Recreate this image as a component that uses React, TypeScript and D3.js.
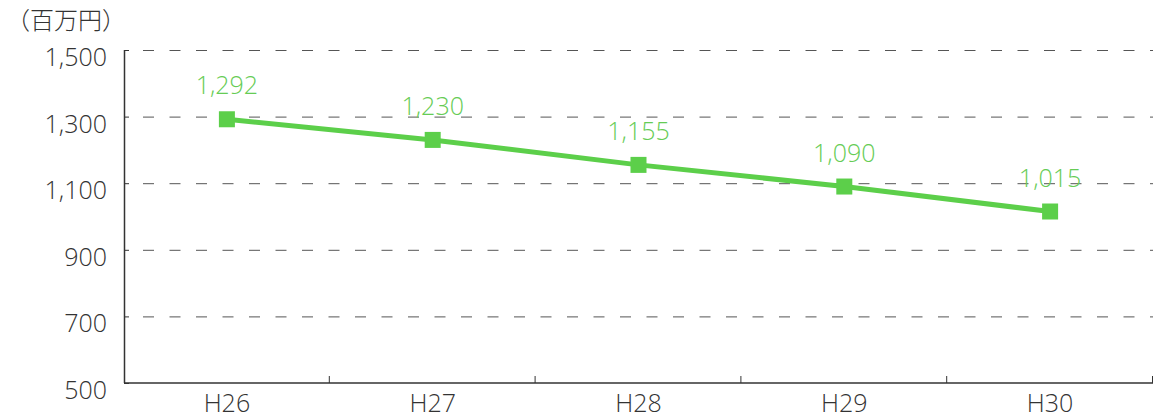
import React from 'react';
import {scaleLinear, scaleBand, line} from 'd3';

const categories = ['H26', 'H27', 'H28', 'H29', 'H30'];
const values = [1292, 1230, 1155, 1090, 1015];
const yTicks = [500, 700, 900, 1100, 1300, 1500];
const unitLabel = '（百万円）';

const W = 1154;
const H = 419;
const left = 124;
const right = 1153;
const top = 50;
const bottom = 383;
const green = '#5ccf4a';
const font = '"Open Sans", "Noto Sans CJK JP", sans-serif';
const cjk = '"Noto Sans CJK JP", sans-serif';

const App = () => {
    const x = scaleBand<string>().domain(categories).range([left, right]);
    const y = scaleLinear().domain([500, 1500]).range([bottom, top]);
    const fmt = (v: number) => v.toLocaleString('en-US');
    const cx = (c: string) => (x(c) as number) + x.bandwidth() / 2;

    const path = line<number>()
        .x((d, i) => cx(categories[i]))
        .y(d => y(d))(values);

    const bounds = categories.map(c => (x(c) as number) + x.bandwidth());

    return (
        <svg width={W} height={H} style={{position: 'absolute', left: 0, top: 0}}>
            <text x={6} y={29} fontSize={24} fill="#333" fontFamily={cjk} fontWeight={300}>{unitLabel}</text>

            {yTicks.filter(t => t > 500).map(t => (
                <line key={'g' + t} x1={left + 19} x2={right} y1={y(t) + 0.5} y2={y(t) + 0.5}
                    stroke="#555" strokeWidth={1} strokeDasharray="11,15.5" />
            ))}
            {yTicks.map(t => (
                <g key={'y' + t}>
                    <line x1={left} x2={left + 5} y1={y(t) + 0.5} y2={y(t) + 0.5} stroke="#333" strokeWidth={1} />
                    <text x={107} y={y(t) + 16} textAnchor="end" fontSize={25} fill="#333"
                        fontFamily={font} fontWeight={300}>{fmt(t)}</text>
                </g>
            ))}

            <line x1={left + 0.5} x2={left + 0.5} y1={top} y2={bottom} stroke="#333" strokeWidth={1.5} />
            <line x1={left} x2={right} y1={bottom} y2={bottom} stroke="#333" strokeWidth={1.5} />
            {bounds.map((b, i) => (
                <line key={'xt' + i} x1={b - 0.5} x2={b - 0.5} y1={bottom - 7} y2={bottom} stroke="#333" strokeWidth={1} />
            ))}
            {categories.map(c => (
                <text key={c} x={cx(c)} y={412} textAnchor="middle"
                    fontSize={25} fill="#333" fontFamily={font} fontWeight={300}>{c}</text>
            ))}

            <path d={path || ''} fill="none" stroke={green} strokeWidth={5} />
            {values.map((v, i) => (
                <g key={'p' + i}>
                    <rect x={cx(categories[i]) - 8} y={y(v) - 8} width={16} height={16} fill={green} />
                    <text x={cx(categories[i])} y={y(v) - 25} textAnchor="middle" fontSize={25}
                        fill="#66cc55" fontFamily={font} fontWeight={300}>{fmt(v)}</text>
                </g>
            ))}
        </svg>
    );
};

export default App;
